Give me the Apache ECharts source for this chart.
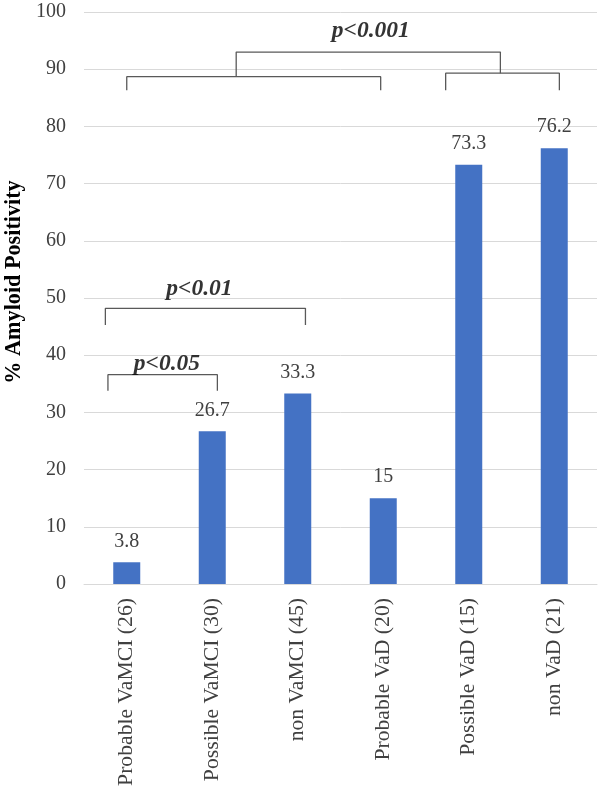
<!DOCTYPE html>
<html>
<head>
<meta charset="utf-8">
<script src="https://cdn.jsdelivr.net/npm/echarts@6/dist/echarts.min.js"></script>
<style>
html,body{margin:0;padding:0;background:#fff;}
#chart{width:601px;height:790px;}
</style>
</head>
<body>
<div id="chart"></div>
<script>
// ---- data ----
var categories = ['Probable VaMCI (26)', 'Possible VaMCI (30)', 'non VaMCI (45)', 'Probable VaD (20)', 'Possible VaD (15)', 'non VaD (21)'];
var amyloidPositivity = [3.8, 26.7, 33.3, 15, 73.3, 76.2];
var yTicks = {min: 0, max: 100, interval: 10};
var yAxisTitle = '% Amyloid Positivity';

// significance brackets, in data units (x = category index, y = % value)
var bracketVaMCIvsVaD_left  = [[0, 86.3], [0, 88.7], [2.97, 88.7], [2.97, 86.3]];
var bracketVaMCIvsVaD_right = [[3.73, 86.3], [3.73, 89.3], [5.06, 89.3], [5.06, 86.3]];
var bracketVaMCIvsVaD_top   = [[1.28, 88.7], [1.28, 93.0], [4.37, 93.0], [4.37, 89.3]];
var bracketP01  = [[-0.25, 45.3], [-0.25, 48.2], [2.09, 48.2], [2.09, 45.3]];
var bracketP05  = [[-0.22, 33.8], [-0.22, 36.6], [1.06, 36.6], [1.06, 33.8]];
var pLabels = [
  {name: 'p<0.001', value: [2.855, 96.7]},
  {name: 'p<0.01',  value: [0.85, 51.6]},
  {name: 'p<0.05',  value: [0.47, 38.5]}
];

var FONT = '"Times New Roman", "Liberation Serif", serif';
var TXT = '#404040';
var bracketStyle = {color: '#595959', width: 1.3};

function bracketSeries(pts) {
  return {
    type: 'line', xAxisIndex: 1, yAxisIndex: 0, data: pts,
    symbol: 'none', silent: true, animation: false,
    lineStyle: bracketStyle, z: 5
  };
}

var chart = echarts.init(document.getElementById('chart'), null, {renderer: 'canvas'});
chart.setOption({
  animation: false,
  backgroundColor: '#ffffff',
  grid: {left: 84, right: 4, top: 12, bottom: 206, containLabel: false, outerBoundsMode: 'none'},
  xAxis: [{
    type: 'category',
    data: categories,
    axisLine: {show: true, lineStyle: {color: '#d9d9d9', width: 1}},
    axisTick: {show: false},
    axisLabel: {rotate: 90, margin: 14, fontFamily: FONT, fontSize: 21.7, color: TXT, interval: 0}
  }, {
    type: 'value', min: -0.5, max: 5.5, show: false
  }],
  yAxis: [{
    type: 'value',
    min: yTicks.min, max: yTicks.max, interval: yTicks.interval,
    name: yAxisTitle,
    nameLocation: 'middle',
    nameGap: 55,
    nameTextStyle: {fontFamily: FONT, fontSize: 22.2, fontWeight: 'bold', color: '#000', padding: [0, 0, 0, 32]},
    axisLine: {show: false},
    axisTick: {show: false},
    splitLine: {show: true, lineStyle: {color: '#d9d9d9', width: 1}},
    axisLabel: {margin: 18, fontFamily: FONT, fontSize: 20, color: TXT}
  }],
  series: [
    {
      type: 'bar',
      data: amyloidPositivity,
      barWidth: 27,
      itemStyle: {color: '#4472c4'},
      label: {show: true, position: 'top', distance: 11, fontFamily: FONT, fontSize: 20, color: TXT},
      z: 2
    },
    bracketSeries(bracketVaMCIvsVaD_left),
    bracketSeries(bracketVaMCIvsVaD_right),
    bracketSeries(bracketVaMCIvsVaD_top),
    bracketSeries(bracketP01),
    bracketSeries(bracketP05),
    {
      type: 'scatter', xAxisIndex: 1, yAxisIndex: 0,
      data: pLabels, symbolSize: 0, silent: true,
      label: {
        show: true, position: 'inside', formatter: '{b}',
        fontFamily: FONT, fontSize: 23.5, fontWeight: 'bold', fontStyle: 'italic', color: '#000'
      },
      z: 6
    }
  ]
});
</script>
</body>
</html>
